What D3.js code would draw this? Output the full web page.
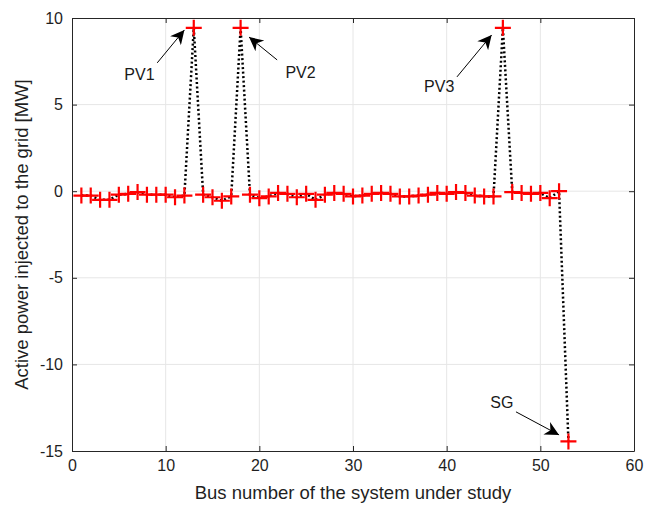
<!DOCTYPE html>
<html>
<head>
<meta charset="utf-8">
<script src="https://cdn.jsdelivr.net/npm/d3@7"></script>
<style>
  body { margin: 0; background: #fff; }
  svg { font-family: "Liberation Sans", Arial, sans-serif; }
</style>
</head>
<body>
<svg id="chart" width="659" height="505"></svg>
<script>
const BUSES = d3.range(1, 54);
const POWER = [
  -0.25, -0.25, -0.5, -0.5, -0.2, -0.15, -0.05, -0.2, -0.2, -0.2,
  -0.35, -0.25, 9.43, -0.2, -0.35, -0.55, -0.3, 9.43, -0.2, -0.4,
  -0.3, -0.1, -0.15, -0.35, -0.15, -0.5, -0.2, -0.1, -0.15, -0.3,
  -0.25, -0.15, -0.1, -0.15, -0.3, -0.3, -0.25, -0.2, -0.1, -0.15,
  -0.05, -0.1, -0.25, -0.3, -0.3, 9.43, -0.05, -0.1, -0.15, -0.1,
  -0.4, 0.0, -14.45
];
const X_TICKS = [0, 10, 20, 30, 40, 50, 60];
const Y_TICKS = [-15, -10, -5, 0, 5, 10];
const LABELS = ["PV1", "PV2", "PV3", "SG"];
const LABEL_POS = [[7.2, 6.4], [24.4, 6.54], [39.2, 5.72], [45.9, -12.5]];
const ARROW_TAIL = [[9.1, 7.41], [21.9, 7.58], [41.1, 6.6], [47.4, -12.74]];
const ARROW_TIP = [[12.0, 9.31], [18.9, 8.9], [44.8, 9.02], [52.0, -14.07]];

const margin = { top: 18, right: 25, bottom: 54, left: 72 };
const width = 659;
const height = 505;

const x = d3.scaleLinear().domain([0, 60]).range([margin.left, width - margin.right]);
const y = d3.scaleLinear().domain([-15, 10]).range([height - margin.bottom, margin.top]);

const svg = d3.select("#chart");

// grid
svg.append("g")
  .selectAll("line")
  .data(X_TICKS.slice(1, -1))
  .join("line")
  .attr("x1", (d) => x(d)).attr("x2", (d) => x(d))
  .attr("y1", y(-15)).attr("y2", y(10))
  .attr("stroke", "#e6e6e6");
svg.append("g")
  .selectAll("line")
  .data(Y_TICKS.slice(1, -1))
  .join("line")
  .attr("y1", (d) => y(d)).attr("y2", (d) => y(d))
  .attr("x1", x(0)).attr("x2", x(60))
  .attr("stroke", "#e6e6e6");

// axes (ticks inward, MATLAB style box)
const fmt = (d) => String(d);
const xAxis = (g) =>
  g.attr("transform", `translate(0,${y(-15)})`)
    .call(d3.axisBottom(x).tickValues(X_TICKS).tickFormat(fmt).tickSize(-5).tickPadding(9).tickSizeOuter(0))
    .call((g) => g.selectAll("text").attr("font-size", 16).attr("fill", "#1f1f1f"));
const yAxis = (g) =>
  g.attr("transform", `translate(${x(0)},0)`)
    .call(d3.axisLeft(y).tickValues(Y_TICKS).tickFormat(fmt).tickSize(-5).tickPadding(9).tickSizeOuter(0))
    .call((g) => g.selectAll("text").attr("font-size", 16).attr("fill", "#1f1f1f"));
const xTop = (g) =>
  g.attr("transform", `translate(0,${y(10)})`)
    .call(d3.axisTop(x).tickValues(X_TICKS).tickSize(-5).tickSizeOuter(0).tickFormat(""));
const yRight = (g) =>
  g.attr("transform", `translate(${x(60)},0)`)
    .call(d3.axisRight(y).tickValues(Y_TICKS).tickSize(-5).tickSizeOuter(0).tickFormat(""));

[xAxis, yAxis, xTop, yRight].forEach((ax) => {
  svg.append("g").call(ax)
    .call((g) => g.selectAll(".domain, line").attr("stroke", "#262626"));
});

// dotted line
const line = d3.line().x((d, i) => x(BUSES[i])).y((d) => y(d));
svg.append("path")
  .datum(POWER)
  .attr("d", line)
  .attr("fill", "none")
  .attr("stroke", "#000")
  .attr("stroke-width", 2.5)
  .attr("stroke-dasharray", "2,2.5");

// plus markers
const m = 8;
svg.append("g")
  .attr("stroke", "#ff0000")
  .attr("stroke-width", 2.2)
  .selectAll("path")
  .data(POWER)
  .join("path")
  .attr("d", (d, i) => {
    const cx = x(BUSES[i]), cy = y(d);
    return `M${cx - m},${cy}H${cx + m}M${cx},${cy - m}V${cy + m}`;
  });

// annotations
svg.append("defs").append("marker")
  .attr("id", "head")
  .attr("viewBox", "0 0 10 10")
  .attr("refX", 10).attr("refY", 5)
  .attr("markerUnits", "userSpaceOnUse")
  .attr("markerWidth", 16).attr("markerHeight", 14)
  .attr("orient", "auto")
  .append("path")
  .attr("d", "M0,0L10,5L0,10L3,5Z")
  .attr("fill", "#000");

LABELS.forEach((lab, i) => {
  svg.append("line")
    .attr("x1", x(ARROW_TAIL[i][0])).attr("y1", y(ARROW_TAIL[i][1]))
    .attr("x2", x(ARROW_TIP[i][0])).attr("y2", y(ARROW_TIP[i][1]))
    .attr("stroke", "#000").attr("stroke-width", 1)
    .attr("marker-end", "url(#head)");
  svg.append("text")
    .attr("x", x(LABEL_POS[i][0])).attr("y", y(LABEL_POS[i][1]))
    .attr("text-anchor", "middle")
    .attr("font-size", 16)
    .attr("fill", "#1a1a1a")
    .text(lab);
});

// axis labels
svg.append("text")
  .attr("x", (x(0) + x(60)) / 2).attr("y", 499)
  .attr("text-anchor", "middle")
  .attr("font-size", 18.5)
  .attr("fill", "#1f1f1f")
  .text("Bus number of the system under study");
svg.append("text")
  .attr("transform", `translate(28,${(y(-15) + y(10)) / 2}) rotate(-90)`)
  .attr("text-anchor", "middle")
  .attr("font-size", 18.5)
  .attr("fill", "#1f1f1f")
  .text("Active power injected to the grid [MW]");
</script>
</body>
</html>
